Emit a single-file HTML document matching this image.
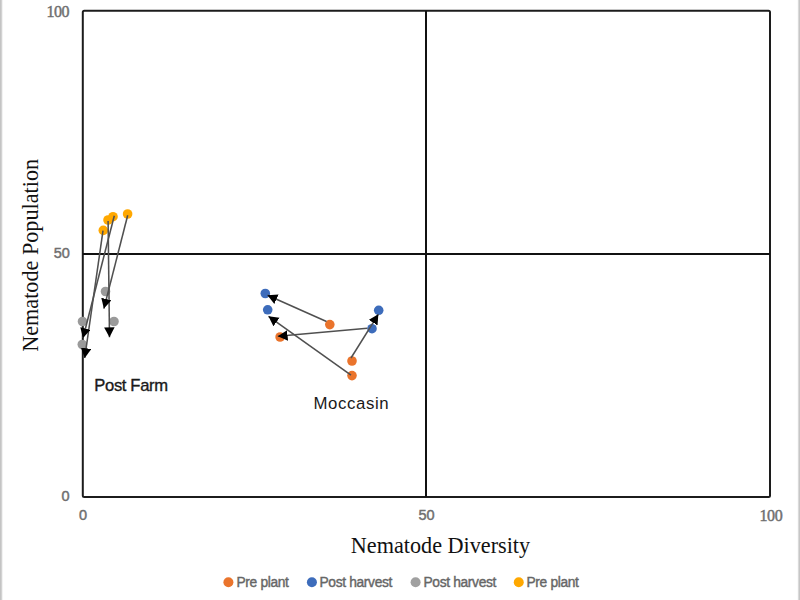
<!DOCTYPE html>
<html>
<head>
<meta charset="utf-8">
<style>
html,body{margin:0;padding:0;background:#fff;}
body{width:800px;height:600px;position:relative;overflow:hidden;}
.t{position:absolute;white-space:nowrap;line-height:1;}
.sans{font-family:"Liberation Sans",sans-serif;}
.serif{font-family:"Liberation Serif",serif;}
svg{position:absolute;left:0;top:0;}
</style>
</head>
<body>
<svg width="800" height="600" viewBox="0 0 800 600">
  <defs>
    <marker id="ah" markerUnits="userSpaceOnUse" markerWidth="14" markerHeight="14" refX="9.8" refY="5.25" orient="auto">
      <path d="M0,0 L9.8,5.25 L0,10.5 z" fill="#000"/>
    </marker>
  </defs>
  <!-- page edges -->
  <rect x="0" y="0" width="1" height="600" fill="#c4c4c4"/>
  <rect x="1" y="0" width="1" height="600" fill="#d2d2d2"/>
  <rect x="2" y="0" width="1" height="600" fill="#f2f2f2"/>
  <rect x="797" y="0" width="1" height="600" fill="#fafafa"/>
  <rect x="798" y="0" width="1" height="600" fill="#dadada"/>
  <rect x="799" y="0" width="1" height="600" fill="#c6c6c6"/>
  <!-- plot box -->
  <rect x="82.8" y="10.8" width="687.2" height="486.2" fill="none" stroke="#1c1c1c" stroke-width="2" rx="1.5"/>
  <line x1="426" y1="11" x2="426" y2="497" stroke="#111" stroke-width="2"/>
  <line x1="83" y1="254" x2="770" y2="254" stroke="#111" stroke-width="2"/>

  <!-- Post Farm cluster -->
  <g>
    <circle cx="103.3" cy="230.4" r="4.8" fill="#FFA800"/>
    <circle cx="108" cy="220" r="4.8" fill="#FFA800"/>
    <circle cx="113" cy="216.7" r="4.8" fill="#FFA800"/>
    <circle cx="127.6" cy="214" r="4.8" fill="#FFA800"/>
    <circle cx="105.5" cy="291.5" r="4.8" fill="#9a9a9a"/>
    <circle cx="82.5" cy="321.5" r="4.8" fill="#9a9a9a"/>
    <circle cx="114" cy="321.5" r="4.8" fill="#9a9a9a"/>
    <circle cx="82.3" cy="344.5" r="4.8" fill="#9a9a9a"/>
  </g>
  <g stroke="#505050" stroke-width="1.55" fill="none">
    <line x1="103" y1="230.7" x2="84.7" y2="358" marker-end="url(#ah)"/>
    <line x1="108.1" y1="221" x2="109.5" y2="337.2" marker-end="url(#ah)"/>
    <line x1="114.3" y1="215.7" x2="83" y2="338" marker-end="url(#ah)"/>
    <line x1="127.7" y1="215.3" x2="103.9" y2="308.6" marker-end="url(#ah)"/>
  </g>

  <!-- Moccasin cluster -->
  <g>
    <circle cx="265.3" cy="293.5" r="4.8" fill="#3D6CBB"/>
    <circle cx="267.7" cy="309.8" r="4.8" fill="#3D6CBB"/>
    <circle cx="378.7" cy="310.3" r="4.8" fill="#3D6CBB"/>
    <circle cx="372" cy="328.7" r="4.8" fill="#3D6CBB"/>
    <circle cx="329.8" cy="324.6" r="4.8" fill="#EA742C"/>
    <circle cx="280.1" cy="337" r="4.8" fill="#EA742C"/>
    <circle cx="352" cy="361" r="4.8" fill="#EA742C"/>
    <circle cx="352" cy="375.6" r="4.8" fill="#EA742C"/>
  </g>
  <g stroke="#505050" stroke-width="1.55" fill="none">
    <line x1="326.5" y1="321.5" x2="267.5" y2="295.2" marker-end="url(#ah)"/>
    <line x1="367.3" y1="328.2" x2="277.8" y2="336.3" marker-end="url(#ah)"/>
    <line x1="351" y1="375.2" x2="268.5" y2="316.3" marker-end="url(#ah)"/>
    <line x1="351" y1="358" x2="378.3" y2="314.3" marker-end="url(#ah)"/>
  </g>
  <!-- redraw arrowheads for under-dot lines on top -->

  <!-- legend dots -->
  <circle cx="228.4" cy="582.3" r="5" fill="#EA742C"/>
  <circle cx="311.9" cy="582.3" r="5" fill="#3D6CBB"/>
  <circle cx="415.6" cy="582.3" r="5" fill="#A0A0A0"/>
  <circle cx="518.75" cy="582.3" r="5" fill="#FFA800"/>
</svg>

<!-- axis labels -->
<div class="t serif" id="y100" style="left:46.4px;top:3.6px;font-size:16px;letter-spacing:-0.4px;color:#6f6f6f;-webkit-text-stroke:0.45px #6f6f6f;">100</div>
<div class="t sans" id="y50" style="left:53.8px;top:246px;font-size:14.5px;color:#6f6f6f;-webkit-text-stroke:0.45px #6f6f6f;">50</div>
<div class="t sans" id="y0" style="left:61.5px;top:488.5px;font-size:14.5px;color:#6f6f6f;-webkit-text-stroke:0.45px #6f6f6f;">0</div>
<div class="t sans" id="x0" style="left:79px;top:508px;font-size:14.5px;color:#6f6f6f;-webkit-text-stroke:0.45px #6f6f6f;">0</div>
<div class="t sans" id="x50" style="left:418.5px;top:508px;font-size:14.5px;color:#6f6f6f;-webkit-text-stroke:0.45px #6f6f6f;">50</div>
<div class="t serif" id="x100" style="left:759.5px;top:508px;font-size:16px;letter-spacing:-0.4px;color:#6f6f6f;-webkit-text-stroke:0.45px #6f6f6f;">100</div>

<div class="t serif" id="xt" style="left:350.8px;top:534.5px;font-size:22.2px;color:#111;">Nematode Diversity</div>
<div class="t serif" id="yt" style="left:0px;top:0px;font-size:22.2px;color:#111;transform-origin:0 0;transform:translate(20px,351.8px) rotate(-90deg);">Nematode Population</div>

<div class="t sans" id="pf" style="left:94.3px;top:377.8px;font-size:16.6px;letter-spacing:-0.35px;-webkit-text-stroke:0.35px #1a1a1a;color:#1a1a1a;">Post Farm</div>
<div class="t sans" id="moc" style="left:313.5px;top:396px;font-size:16.8px;letter-spacing:0.6px;color:#1a1a1a;">Moccasin</div>

<div class="t sans" id="l1" style="left:236.5px;top:576px;font-size:13.8px;letter-spacing:-0.35px;color:#666;-webkit-text-stroke:0.4px #666;">Pre plant</div>
<div class="t sans" id="l2" style="left:319.5px;top:576px;font-size:13.8px;letter-spacing:-0.35px;color:#666;-webkit-text-stroke:0.4px #666;">Post harvest</div>
<div class="t sans" id="l3" style="left:423.5px;top:576px;font-size:13.8px;letter-spacing:-0.35px;color:#666;-webkit-text-stroke:0.4px #666;">Post harvest</div>
<div class="t sans" id="l4" style="left:526.5px;top:576px;font-size:13.8px;letter-spacing:-0.35px;color:#666;-webkit-text-stroke:0.4px #666;">Pre plant</div>
</body>
</html>
